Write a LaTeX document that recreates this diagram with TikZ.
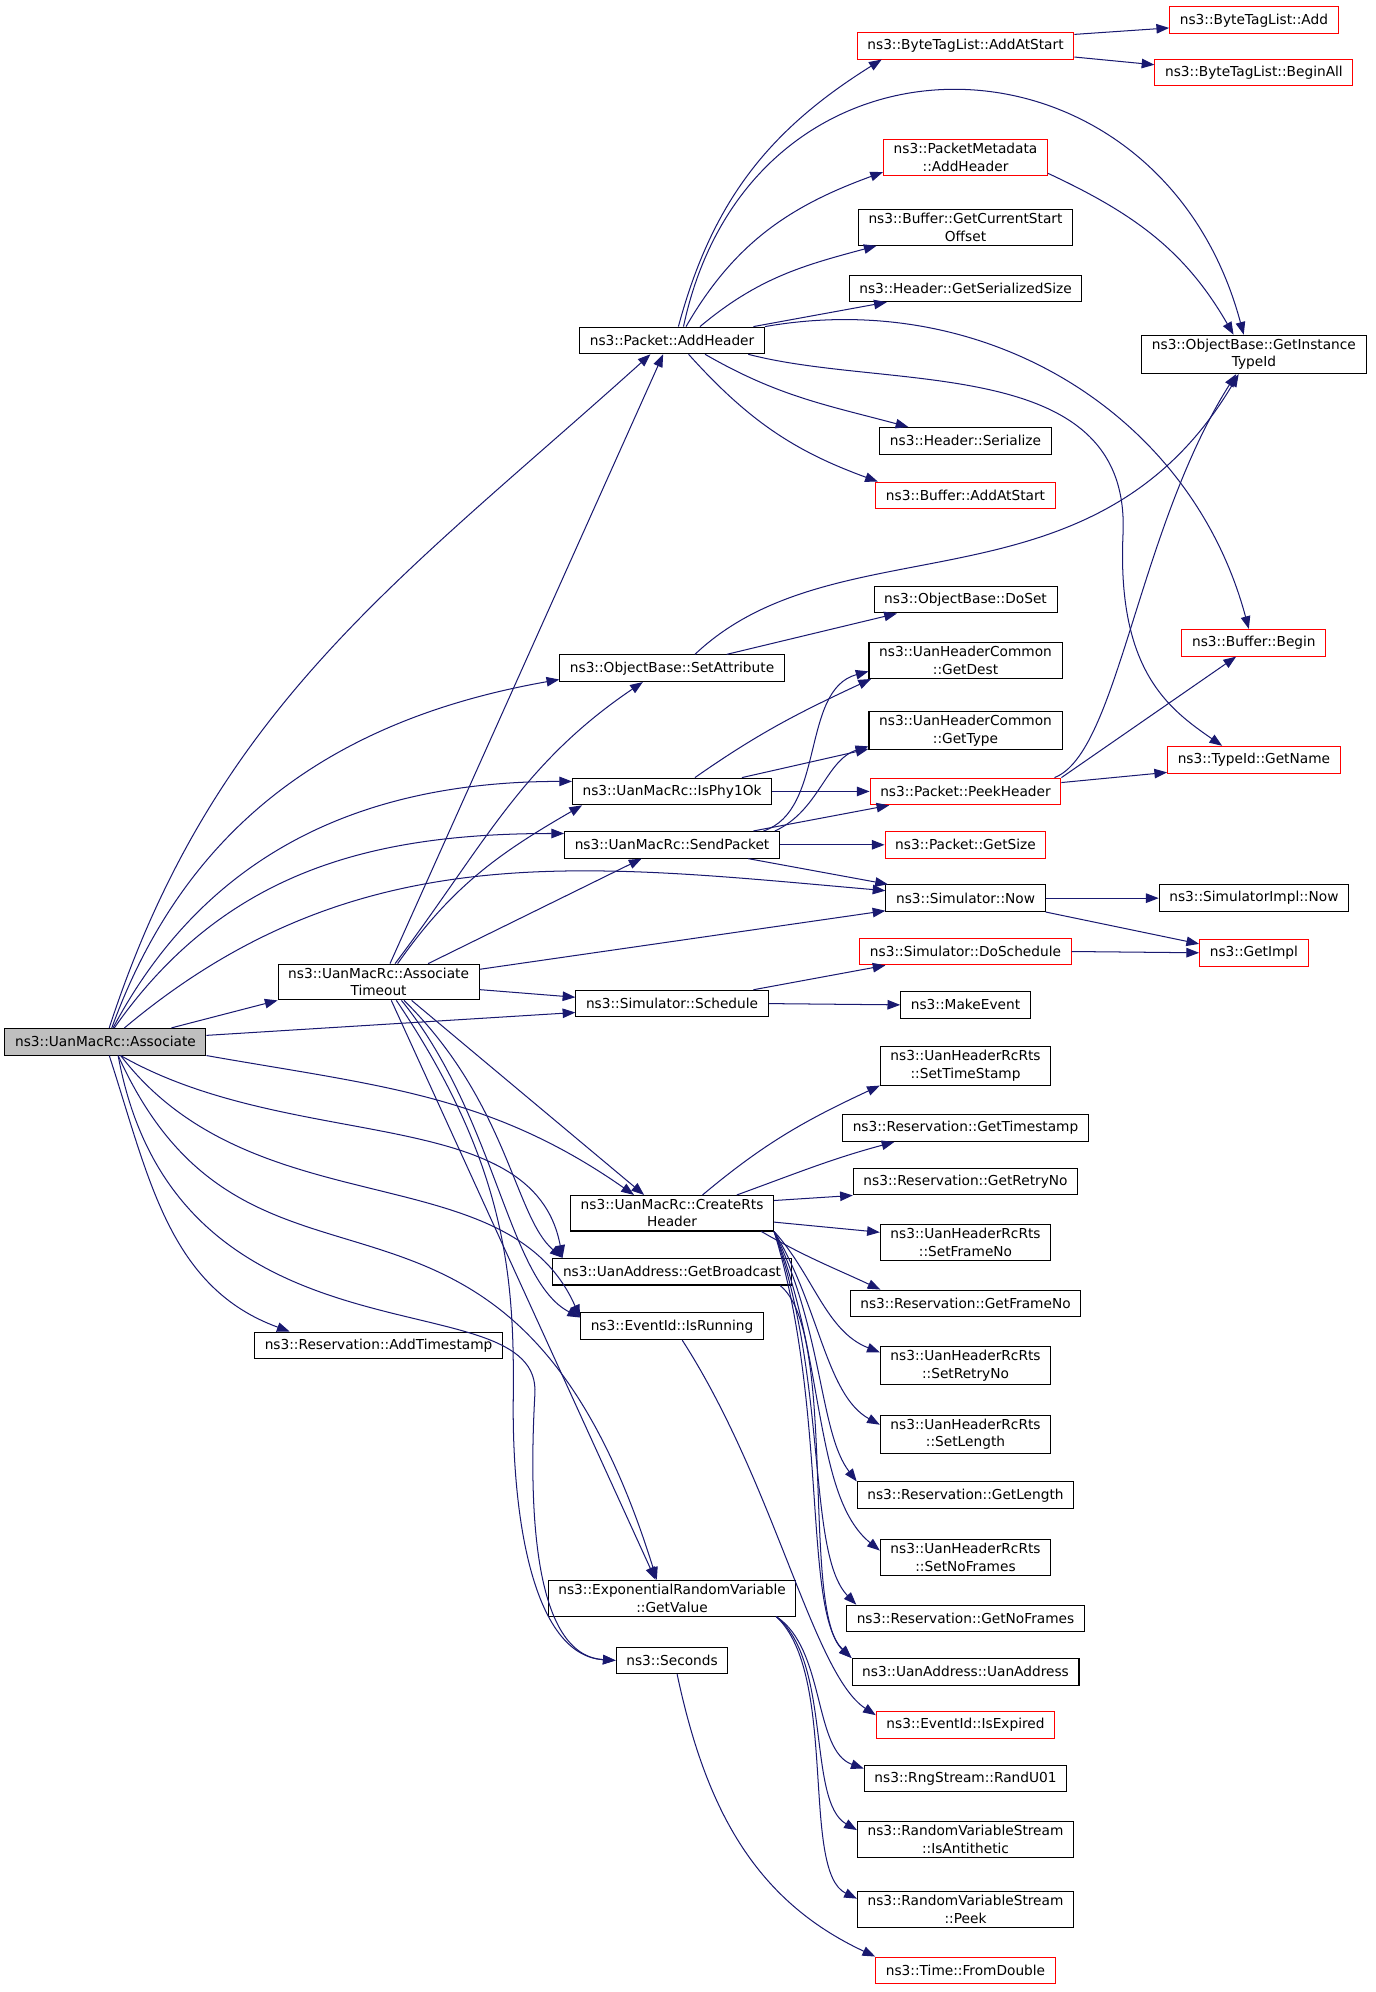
\documentclass[tikz,border=0pt]{standalone}
\usepackage{fontspec}
\setmainfont{DejaVu Sans}
\usetikzlibrary{arrows.meta,positioning}
\definecolor{edgeblue}{RGB}{25,25,112}
\tikzset{
    func/.style={
                draw=black,
                line width=0.8pt,
                fill=white,
                align=center,
                inner xsep=8pt,
                inner ysep=3pt,
                minimum height=21pt,
                font=\fontsize{10.8}{13.8}\selectfont
            },
        extfunc/.style={
                func,
                draw=red
            },
        rootfunc/.style={
                func,
                fill=gray!50
            },
        calls/.style={
                draw=edgeblue,
                line width=0.8pt,
                -{Triangle[length=10pt,width=7.5pt]}
            },
}

\begin{document}
\begin{tikzpicture}[x=1pt,y=1pt]
  \useasboundingbox (0,0) rectangle (1083,1568);
  % Root and first level
  \node[rootfunc] (assoc) at (83,748) {ns3::UanMacRc::Associate};
  \node[func] (timeout) at (298,795) {ns3::UanMacRc::Associate\\Timeout};
  \node[func] (addts) at (298,509) {ns3::Reservation::AddTimestamp};
  \node[func] (addhdr) at (529,1300) {ns3::Packet::AddHeader};
  \node[func] (setattr) at (529,1042) {ns3::ObjectBase::SetAttribute};
  \node[func] (phy) at (529,945) {ns3::UanMacRc::IsPhy1Ok};
  \node[func] (send) at (529,903) {ns3::UanMacRc::SendPacket};
  \node[func] (sched) at (529,778) {ns3::Simulator::Schedule};
  \node[func] (rts) at (529,613) {ns3::UanMacRc::CreateRts\\Header};
  \node[func] (bcast) at (529,567) {ns3::UanAddress::GetBroadcast};
  \node[func] (isrun) at (529,524) {ns3::EventId::IsRunning};
  \node[func] (getval) at (529,310) {ns3::ExponentialRandomVariable\\::GetValue};
  \node[func] (secs) at (529,261) {ns3::Seconds};
  % Second level
  \node[extfunc] (btaas) at (760,1532) {ns3::ByteTagList::AddAtStart};
  \node[extfunc] (pmah) at (760,1444) {ns3::PacketMetadata\\::AddHeader};
  \node[func] (gcso) at (760,1389) {ns3::Buffer::GetCurrentStart\\Offset};
  \node[func] (gss) at (760,1341) {ns3::Header::GetSerializedSize};
  \node[func] (hser) at (760,1221) {ns3::Header::Serialize};
  \node[extfunc] (baas) at (760,1178) {ns3::Buffer::AddAtStart};
  \node[func] (doset) at (760,1096) {ns3::ObjectBase::DoSet};
  \node[func] (gdest) at (760,1048) {ns3::UanHeaderCommon\\::GetDest};
  \node[func] (gtype) at (760,993) {ns3::UanHeaderCommon\\::GetType};
  \node[extfunc] (peek) at (760,945) {ns3::Packet::PeekHeader};
  \node[extfunc] (gsize) at (760,903) {ns3::Packet::GetSize};
  \node[func] (simnow) at (760,861) {ns3::Simulator::Now};
  \node[extfunc] (dosch) at (760,819) {ns3::Simulator::DoSchedule};
  \node[func] (mkev) at (760,777) {ns3::MakeEvent};
  \node[func] (sts) at (760,729) {ns3::UanHeaderRcRts\\::SetTimeStamp};
  \node[func] (gts) at (760,680) {ns3::Reservation::GetTimestamp};
  \node[func] (grn) at (760,638) {ns3::Reservation::GetRetryNo};
  \node[func] (sfn) at (760,590) {ns3::UanHeaderRcRts\\::SetFrameNo};
  \node[func] (gfn) at (760,542) {ns3::Reservation::GetFrameNo};
  \node[func] (srn) at (760,493) {ns3::UanHeaderRcRts\\::SetRetryNo};
  \node[func] (slen) at (760,439) {ns3::UanHeaderRcRts\\::SetLength};
  \node[func] (glen) at (760,391) {ns3::Reservation::GetLength};
  \node[func] (snf) at (760,342) {ns3::UanHeaderRcRts\\::SetNoFrames};
  \node[func] (gnf) at (760,294) {ns3::Reservation::GetNoFrames};
  \node[func] (uaddr) at (760,252) {ns3::UanAddress::UanAddress};
  \node[extfunc] (isexp) at (760,210) {ns3::EventId::IsExpired};
  \node[func] (randu) at (760,168) {ns3::RngStream::RandU01};
  \node[func] (anti) at (760,120) {ns3::RandomVariableStream\\::IsAntithetic};
  \node[func] (peekrv) at (760,65) {ns3::RandomVariableStream\\::Peek};
  \node[extfunc] (fromd) at (760,17) {ns3::Time::FromDouble};
  % Third level
  \node[extfunc] (btadd) at (987,1552) {ns3::ByteTagList::Add};
  \node[extfunc] (btall) at (987,1511) {ns3::ByteTagList::BeginAll};
  \node[func] (gitid) at (987,1289) {ns3::ObjectBase::GetInstance\\TypeId};
  \node[extfunc] (bbegin) at (987,1062) {ns3::Buffer::Begin};
  \node[extfunc] (gname) at (987,970) {ns3::TypeId::GetName};
  \node[func] (simimpl) at (987,861) {ns3::SimulatorImpl::Now};
  \node[extfunc] (getimpl) at (987,818) {ns3::GetImpl};
  % Calls of Associate
  \draw[calls] ([xshift=3]assoc.north) to[out=72,in=222] ([xshift=-17]addhdr.south);
  \draw[calls] ([xshift=5]assoc.north) to[out=70,in=190] ([yshift=2]setattr.south west);
  \draw[calls] ([xshift=6]assoc.north) to[out=62,in=180] ([yshift=-3]phy.north west);
  \draw[calls] ([xshift=7]assoc.north) to[out=55,in=180] ([yshift=-2]send.north west);
  \draw[calls] ([xshift=15]assoc.north) to[out=40,in=175] ([yshift=-5]simnow.north west);
  \draw[calls] ([xshift=52]assoc.north) -- (timeout.south west);
  \draw[calls] ([yshift=5]assoc.east) -- ([yshift=-7]sched.west);
  \draw[calls] (assoc.south east) to[out=-10,in=145] ([xshift=-30]rts.north);
  \draw[calls] ([xshift=12]assoc.south) .. controls (230,660) and (420,700) .. ([xshift=8]bcast.north west);
  \draw[calls] ([xshift=12]assoc.south) .. controls (200,600) and (400,660) .. ([yshift=-4]isrun.north west);
  \draw[calls] ([xshift=10]assoc.south) .. controls (200,500) and (400,700) .. ([xshift=-12]getval.north);
  \draw[calls] ([xshift=10]assoc.south) .. controls (140,480) and (428,565) .. (421,470)
    .. controls (416,380) and (420,265) .. (secs.west);
  \draw[calls] ([xshift=3]assoc.south) to[out=-72,in=160] ([xshift=-70]addts.north);
  % Calls of AssociateTimeout
  \draw[calls] ([xshift=9]timeout.north) -- ([xshift=-7]addhdr.south);
  \draw[calls] ([xshift=13]timeout.north) to[out=53,in=214] ([xshift=-23]setattr.south);
  \draw[calls] ([xshift=15]timeout.north) to[out=55,in=210] ([xshift=8]phy.south west);
  \draw[calls] ([xshift=39]timeout.north) -- ([xshift=-24]send.south);
  \draw[calls] ([yshift=10]timeout.east) -- ([yshift=1]simnow.south west);
  \draw[calls] ([yshift=-6]timeout.east) -- ([yshift=5]sched.west);
  \draw[calls] ([xshift=26]timeout.south) -- ([xshift=-22]rts.north);
  \draw[calls] ([xshift=20]timeout.south) .. controls (400,700) and (405,610) .. ([xshift=8]bcast.north west);
  \draw[calls] ([xshift=18]timeout.south) .. controls (390,690) and (400,560) .. ([yshift=-4]isrun.north west);
  \draw[calls] ([xshift=10]timeout.south) -- ([xshift=-13]getval.north);
  \draw[calls] ([xshift=14]timeout.south) .. controls (400,650) and (405,560) .. (404,466)
    .. controls (403,372) and (420,265) .. (secs.west);
  % Calls of Packet::AddHeader
  \draw[calls] ([xshift=5]addhdr.north) to[out=75,in=212] ([xshift=-66]btaas.south);
  \draw[calls] ([xshift=9]addhdr.north) to[out=78,in=105,looseness=1.5] ([xshift=-8]gitid.north);
  \draw[calls] ([xshift=11]addhdr.north) to[out=60,in=200] ([yshift=3]pmah.south west);
  \draw[calls] ([xshift=22]addhdr.north) to[out=40,in=195] ([xshift=-70]gcso.south);
  \draw[calls] ([xshift=64]addhdr.north) -- ([xshift=-62]gss.south);
  \draw[calls] (addhdr.north east) to[out=10,in=105] ([xshift=-4]bbegin.north);
  \draw[calls] ([xshift=60]addhdr.south) .. controls (700,1260) and (890,1290) .. (884,1148)
    .. controls (879,1040) and (920,1010) .. ([xshift=-25]gname.north);
  \draw[calls] ([xshift=26]addhdr.south) to[out=-30,in=165] ([xshift=-45]hser.north);
  \draw[calls] ([xshift=13]addhdr.south) to[out=-48,in=160] ([xshift=2]baas.north west);
  % Deeper calls
  \draw[calls] ([yshift=-2]btaas.north east) -- ([yshift=-6]btadd.west);
  \draw[calls] ([yshift=2]btaas.south east) -- ([yshift=6]btall.west);
  \draw[calls] ([yshift=2]pmah.south east) to[out=-25,in=120] ([xshift=-16]gitid.north);
  \draw[calls] ([xshift=18]setattr.north) .. controls (660,1160) and (860,1080) .. ([xshift=-12]gitid.south);
  \draw[calls] ([xshift=43]setattr.north) -- ([xshift=-54]doset.south);
  \draw[calls] ([xshift=18]phy.north) to[out=35,in=205] ([xshift=2]gdest.south west);
  \draw[calls] ([xshift=55]phy.north) -- ([yshift=1]gtype.south west);
  \draw[calls] (phy.east) -- (peek.west);
  \draw[calls] ([xshift=72]send.north) .. controls (650,930) and (630,1025) .. ([yshift=6]gdest.south west);
  \draw[calls] ([xshift=81]send.north) .. controls (645,930) and (650,970) .. ([yshift=3]gtype.south west);
  \draw[calls] ([xshift=64]send.north) -- ([xshift=-60]peek.south);
  \draw[calls] (send.east) -- (gsize.west);
  \draw[calls] ([xshift=60]send.south) -- ([xshift=2]simnow.north west);
  \draw[calls] ([xshift=70]peek.north) .. controls (880,975) and (895,1150) .. ([xshift=-14]gitid.south);
  \draw[calls] (peek.north east) -- ([xshift=-14]bbegin.south);
  \draw[calls] ([yshift=7]peek.east) -- ([yshift=-10]gname.west);
  \draw[calls] (simnow.east) -- (simimpl.west);
  \draw[calls] (simnow.south east) -- ([yshift=7]getimpl.west);
  \draw[calls] (dosch.east) -- (getimpl.west);
  \draw[calls] ([xshift=64]sched.north) -- ([xshift=-63]dosch.south);
  \draw[calls] (sched.east) -- (mkev.west);
  % Calls of CreateRtsHeader
  \draw[calls] ([xshift=24]rts.north) to[out=40,in=205] (sts.south west);
  \draw[calls] ([xshift=51]rts.north) to[out=20,in=195] ([xshift=-56]gts.south);
  \draw[calls] ([yshift=10]rts.east) -- ([yshift=-11]grn.west);
  \draw[calls] ([yshift=-7]rts.east) -- ([yshift=8]sfn.west);
  \draw[calls] ([xshift=-10]rts.south east) to[out=-30,in=155] ([xshift=-67]gfn.north);
  \draw[calls] (rts.south east) .. controls (640,565) and (650,520) .. ([yshift=-5]srn.north west);
  \draw[calls] (rts.south east) .. controls (645,540) and (650,470) .. ([yshift=-8]slen.north west);
  \draw[calls] (rts.south east) .. controls (648,520) and (645,440) .. (glen.north west);
  \draw[calls] (rts.south east) .. controls (650,500) and (640,390) .. ([yshift=-9]snf.north west);
  \draw[calls] (rts.south east) .. controls (652,480) and (635,345) .. ([xshift=8]gnf.north west);
  \draw[calls] (rts.south east) .. controls (652,460) and (632,300) .. (uaddr.north west);
  % Remaining calls
  \draw[calls] ([xshift=85]bcast.south) .. controls (660,520) and (630,300) .. (uaddr.north west);
  \draw[calls] ([xshift=8]isrun.south) .. controls (610,400) and (640,250) .. ([yshift=-3]isexp.north west);
  \draw[calls] ([xshift=82]getval.south) .. controls (650,270) and (640,190) .. ([yshift=-3]randu.north west);
  \draw[calls] ([xshift=82]getval.south) .. controls (655,260) and (635,150) .. ([yshift=-7]anti.north west);
  \draw[calls] ([xshift=82]getval.south) .. controls (660,250) and (630,95) .. ([yshift=-6]peekrv.north west);
  \draw[calls] ([xshift=4]secs.south) to[out=-78,in=155] (fromd.north west);
\end{tikzpicture}
\end{document}
